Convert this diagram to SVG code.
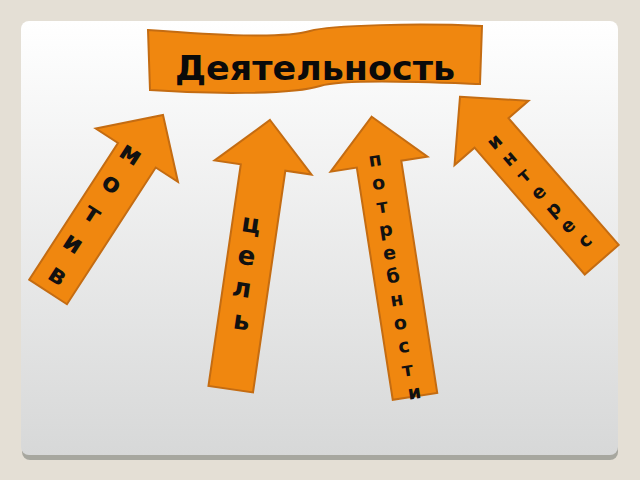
<svg xmlns="http://www.w3.org/2000/svg" width="640" height="480" viewBox="0 0 640 480">
  <defs>
    <linearGradient id="panelGrad" x1="0" y1="0" x2="0" y2="1">
      <stop offset="0" stop-color="#ffffff"/>
      <stop offset="1" stop-color="#d7d8d8"/>
    </linearGradient>
  </defs>
  <style>
    .arrow { fill: #f0870f; stroke: #c46c12; stroke-width: 2; stroke-linejoin: miter; }
    .banner { fill: #f0870f; stroke: #c46c12; stroke-width: 2; }
    .lbl { font-family: "DejaVu Sans", Verdana, sans-serif; font-weight: bold; fill: #111111; text-anchor: middle; }
    .title { font-family: "DejaVu Sans", Verdana, sans-serif; font-weight: bold; fill: #0a0a0a; font-size: 34px; }
  </style>

  <!-- background -->
  <rect x="0" y="0" width="640" height="480" fill="#e4dfd5"/>
  <rect x="22" y="25" width="596" height="435" rx="8" fill="#a7a79f"/>
  <rect x="21" y="21" width="597" height="434" rx="8" fill="url(#panelGrad)"/>

  <!-- banner node -->
  <g id="node-deyatelnost">
    <path class="banner" d="M148,30 C215,35 282,39 310,31 C330,25 420,23 482,26 L480,84 C420,82 345,79 320,86 C292,95 205,94 150,90 Z"/>
    <text class="title" x="175" y="80" textLength="280" lengthAdjust="spacingAndGlyphs">Деятельность</text>
  </g>

  <g id="connectors">
    <!-- мотив -->
    <g id="node-motiv" transform="translate(163,115) rotate(33)">
      <polygon class="arrow" points="0,0 49,48 22.5,48 22.5,211 -22.5,211 -22.5,48 -49,48"/>
      <text class="lbl" font-size="26">
        <tspan x="-1" y="58.5">м</tspan>
        <tspan x="-1" y="93.9">о</tspan>
        <tspan x="-1" y="129.4">т</tspan>
        <tspan x="-1" y="164.8">и</tspan>
        <tspan x="-1" y="200.2">в</tspan>
      </text>
    </g>

    <!-- цель -->
    <g id="node-cel" transform="translate(270,120) rotate(8.3)">
      <polygon class="arrow" points="0,0 49,48 22.5,48 22.5,272 -22.5,272 -22.5,48 -49,48"/>
      <text class="lbl" font-size="26">
        <tspan x="1" y="114">ц</tspan>
        <tspan x="1" y="146.5">е</tspan>
        <tspan x="1" y="179">л</tspan>
        <tspan x="1" y="211.5">ь</tspan>
      </text>
    </g>

    <!-- потребности -->
    <g id="node-potrebnosti" transform="translate(371.7,116.7) rotate(-8.8)">
      <polygon class="arrow" points="0,0 49,48 22.5,48 22.5,283 -22.5,283 -22.5,48 -49,48"/>
      <text class="lbl" font-size="19">
        <tspan x="0" y="49.3">п</tspan>
        <tspan x="0" y="72.9">о</tspan>
        <tspan x="0" y="96.5">т</tspan>
        <tspan x="0" y="120.1">р</tspan>
        <tspan x="0" y="143.7">е</tspan>
        <tspan x="0" y="167.3">б</tspan>
        <tspan x="0" y="190.9">н</tspan>
        <tspan x="0" y="214.5">о</tspan>
        <tspan x="0" y="238.1">с</tspan>
        <tspan x="0" y="261.7">т</tspan>
        <tspan x="0" y="285.3">и</tspan>
      </text>
    </g>

    <!-- интерес -->
    <g id="node-interes" transform="translate(460,96.7) rotate(-41)">
      <polygon class="arrow" points="0,0 49,48 22.5,48 22.5,216 -22.5,216 -22.5,48 -49,48"/>
      <text class="lbl" font-size="19">
        <tspan x="0" y="63.1">и</tspan>
        <tspan x="0" y="85.4">н</tspan>
        <tspan x="0" y="107.7">т</tspan>
        <tspan x="0" y="129.9">е</tspan>
        <tspan x="0" y="152.2">р</tspan>
        <tspan x="0" y="174.5">е</tspan>
        <tspan x="0" y="196.8">с</tspan>
      </text>
    </g>
  </g>
</svg>
